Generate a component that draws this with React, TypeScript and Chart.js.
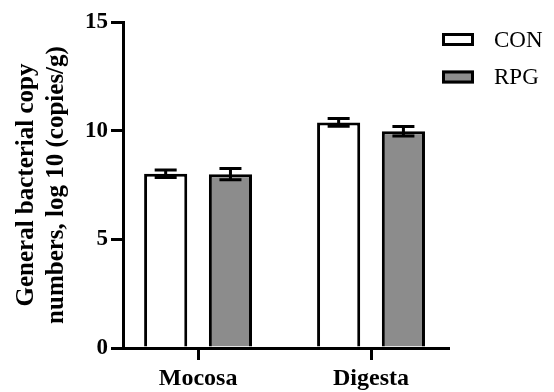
import React, { useEffect, useRef } from "react";
import { Chart, registerables } from "chart.js";

Chart.register(...registerables);

const categories = ["Mocosa", "Digesta"];
const seriesNames = ["CON", "RPG"];
const conValues = [8.02, 10.38];
const rpgValues = [8.0, 9.97];
const conSem = [0.17, 0.18];
const rpgSem = [0.26, 0.22];
const yTicks = [0, 5, 10, 15];
const yTitle = ["General bacterial copy", "numbers, log 10 (copies/g)"];

const FONT = "'Liberation Serif', 'Times New Roman', serif";

const seriesValues = [conValues, rpgValues];
const seriesSem = [conSem, rpgSem];

const errorBarPlugin = {
  id: "errorBars",
  afterDatasetsDraw(chart: any) {
    const ctx = chart.ctx;
    const yScale = chart.scales.y;
    chart.data.datasets.forEach((_ds: any, di: number) => {
      const meta = chart.getDatasetMeta(di);
      meta.data.forEach((bar: any, i: number) => {
        const v = seriesValues[di][i];
        const s = seriesSem[di][i];
        const x = bar.x;
        const yHi = yScale.getPixelForValue(v + s);
        const yLo = yScale.getPixelForValue(v - s);
        const half = 11;
        ctx.save();
        ctx.strokeStyle = "#000";
        ctx.lineWidth = 3;
        ctx.beginPath();
        ctx.moveTo(x, yLo);
        ctx.lineTo(x, yHi);
        ctx.moveTo(x - half, yHi);
        ctx.lineTo(x + half, yHi);
        ctx.moveTo(x - half, yLo);
        ctx.lineTo(x + half, yLo);
        ctx.stroke();
        ctx.restore();
      });
    });
  },
};

const legendPlugin = {
  id: "customLegend",
  afterDraw(chart: any) {
    const ctx = chart.ctx;
    const area = chart.chartArea;
    const bx = area.right - 6;
    const by = area.top + 11;
    chart.data.datasets.forEach((ds: any, i: number) => {
      const y = by + i * 37.5;
      ctx.save();
      ctx.fillStyle = ds.backgroundColor;
      ctx.fillRect(bx, y, 32, 13);
      ctx.strokeStyle = "#000";
      ctx.lineWidth = 3;
      ctx.strokeRect(bx + 1.5, y + 1.5, 29, 10);
      ctx.fillStyle = "#000";
      ctx.font = `23px ${FONT}`;
      ctx.textBaseline = "middle";
      ctx.textAlign = "left";
      ctx.fillText(ds.label, bx + 52, y + 7.5);
      ctx.restore();
    });
  },
};

export default function App() {
  const ref = useRef<HTMLCanvasElement>(null);
  useEffect(() => {
    if (!ref.current) return;
    const chart = new Chart(ref.current, {
      type: "bar",
      data: {
        datasets: [
          {
            label: seriesNames[0],
            data: categories.map((_c, i) => ({ x: i, y: conValues[i] })),
            backgroundColor: "#ffffff",
            borderColor: "#000000",
            borderWidth: 3,
            barPercentage: 0.666,
            categoryPercentage: 0.749,
          },
          {
            label: seriesNames[1],
            data: categories.map((_c, i) => ({ x: i, y: rpgValues[i] })),
            backgroundColor: "#8c8c8c",
            borderColor: "#000000",
            borderWidth: 3,
            barPercentage: 0.666,
            categoryPercentage: 0.749,
          },
        ],
      },
      options: {
        responsive: false,
        animation: false,
        layout: { padding: { top: 22, right: 106, left: 0, bottom: 0 } },
        plugins: {
          legend: { display: false },
          tooltip: { enabled: false },
        },
        scales: {
          x: {
            type: "linear",
            offset: false,
            min: -0.434,
            max: 1.445,
            afterBuildTicks: (s: any) => {
              s.ticks = categories.map((_c, i) => ({ value: i }));
            },
            grid: {
              display: true,
              drawOnChartArea: false,
              drawTicks: true,
              offset: false,
              tickLength: 12,
              lineWidth: 3,
              color: "#000",
            },
            border: { display: true, color: "#000", width: 3 },
            ticks: {
              color: "#000",
              padding: 4,
              autoSkip: false,
              maxRotation: 0,
              callback: (v: any) => categories[v] ?? "",
              font: { family: FONT, size: 24, weight: "bold" },
            },
            afterFit: (s: any) => {
              s.height = 44;
            },
          },
          y: {
            min: 0,
            max: 15,
            afterBuildTicks: (s: any) => {
              s.ticks = yTicks.map((v) => ({ value: v }));
            },
            grid: {
              display: true,
              drawOnChartArea: false,
              drawTicks: true,
              tickLength: 12,
              lineWidth: 3,
              color: "#000",
            },
            border: { display: true, color: "#000", width: 3 },
            ticks: {
              color: "#000",
              padding: 3,
              font: { family: FONT, size: 23, weight: "bold" },
            },
            title: {
              display: true,
              text: yTitle,
              color: "#000",
              padding: { top: 12, bottom: 0 },
              font: { family: FONT, size: 25, weight: "bold", lineHeight: 1.2 },
            },
            afterFit: (s: any) => {
              s.width = 123;
            },
          },
        },
      },
      plugins: [errorBarPlugin, legendPlugin],
    });
    return () => chart.destroy();
  }, []);
  return (
    <canvas
      ref={ref}
      width={554}
      height={392}
      style={{ position: "fixed", left: 0, top: 0, width: 554, height: 392 }}
    />
  );
}
